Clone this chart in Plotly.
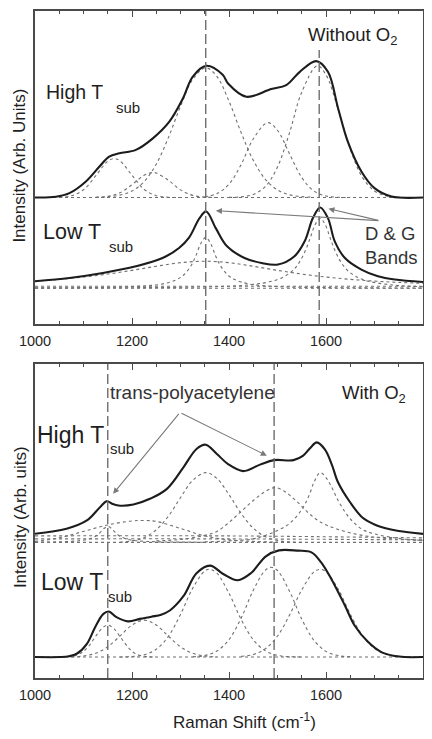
import plotly.graph_objects as go

# ---------------- data ----------------
X_RANGE = [1000, 1800]
TICK_VALUES = [1000, 1200, 1400, 1600]
TICK_LABELS = ["1000", "1200", "1400", "1600"]

top_band_lines = [1352, 1586]        # D & G bands (cm-1)
bottom_band_lines = [1150, 1493]     # trans-polyacetylene bands (cm-1)

# stacking offsets of the spectra (arb. units)
top_high_offset = 127
top_low_offset = 36
bottom_high_offset = 136
bottom_low_offset = 21

# ---- Without O2 : High Tsub ----
top_high_sum_x = [1000, 1043, 1071, 1105, 1133, 1153, 1174, 1208, 1243, 1277, 1305, 1325, 1353, 1387, 1398,
                  1436, 1487, 1518, 1546, 1580, 1604, 1625, 1645, 1673, 1700, 1735, 1800]
top_high_sum_y = [0, 0.7, 4.3, 16, 31, 41, 44.3, 47.7, 59.3, 76, 99.3, 121, 132, 123, 114.3,
                  101, 108.7, 112.7, 126, 136.7, 126, 89.3, 56, 26, 9.3, 1, 0]
top_high_c1_x = [1050, 1075, 1100, 1125, 1150, 1163, 1175, 1200, 1225, 1250, 1275, 1300]
top_high_c1_y = [0.2, 1.7, 7.7, 21.6, 36.4, 39, 36.8, 22.3, 8.1, 1.8, 0.2, 0]
top_high_c2_x = [1125, 1150, 1175, 1200, 1225, 1243, 1250, 1275, 1300, 1325, 1350, 1375]
top_high_c2_y = [0.2, 1.1, 4.6, 12.8, 22.2, 25, 24.5, 17.3, 7.6, 2.1, 0.4, 0]
top_high_c3_x = [1125, 1150, 1175, 1200, 1225, 1250, 1275, 1300, 1325, 1352, 1375, 1400, 1425, 1450, 1475,
                 1500, 1525, 1550, 1575]
top_high_c3_y = [0.2, 0.7, 2.3, 6.5, 15.9, 33.4, 60, 91.4, 118.3, 130, 121.4, 96.5, 65, 37.3, 18.2,
                 7.5, 2.6, 0.8, 0.2]
top_high_c4_x = [1350, 1375, 1400, 1425, 1450, 1480, 1500, 1525, 1550, 1575, 1600, 1625, 1650]
top_high_c4_y = [0.8, 3.8, 13.3, 33, 58.7, 75, 67.4, 43.4, 20, 6.5, 1.5, 0.2, 0]
top_high_c5_x = [1400, 1425, 1450, 1475, 1500, 1525, 1550, 1582, 1600, 1625, 1650, 1675, 1700, 1725, 1750, 1775]
top_high_c5_y = [0.1, 0.6, 3.0, 11, 30.6, 65.2, 105.6, 132, 123, 88.3, 48.5, 20.2, 6.5, 1.5, 0.2, 0]
top_high_base_x = [1000, 1800]
top_high_base_y = [0, 0]

# ---- Without O2 : Low Tsub ----
top_low_sum_x = [1000, 1071, 1140, 1208, 1263, 1297, 1318, 1339, 1353, 1373, 1396, 1432, 1467, 1501, 1535,
                 1556, 1573, 1588, 1604, 1618, 1639, 1673, 1707, 1742, 1800]
top_low_sum_y = [7, 10.3, 15.3, 22, 30.3, 40.3, 51, 70, 77, 60, 42, 30.3, 25.3, 23.7, 32,
                 47, 70.3, 81, 70.3, 47, 30.3, 18.7, 12, 8.7, 6.2]
top_low_broad_x = [1000, 1050, 1100, 1150, 1200, 1250, 1300, 1350, 1400, 1450, 1500, 1550, 1600, 1650,
                   1700, 1750, 1800]
top_low_broad_y = [7.1, 8.9, 11.2, 14.2, 17.9, 22.0, 25.6, 27, 25.6, 22.0, 17.9, 14.2, 11.2, 8.9,
                   7.1, 5.8, 4.8]
top_low_d_x = [1000, 1100, 1200, 1262, 1292, 1307, 1322, 1332, 1342, 1352, 1362, 1372, 1382, 1397, 1412,
               1442, 1502, 1602, 1700, 1800]
top_low_d_y = [0.3, 0.6, 1.6, 4.2, 8.6, 13.5, 22.8, 32.9, 44.9, 51, 44.9, 32.9, 22.8, 13.5, 8.6,
               4.2, 1.6, 0.6, 0.3, 0.2]
top_low_g_x = [1000, 1200, 1338, 1438, 1498, 1528, 1543, 1558, 1568, 1578, 1588, 1598, 1608, 1618, 1633,
               1648, 1678, 1738, 1800]
top_low_g_y = [0.2, 0.5, 1.2, 3.2, 8.3, 16.2, 24.5, 38.3, 51.2, 64.1, 70, 64.1, 51.2, 38.3, 24.5,
               16.2, 8.3, 3.2, 1.5]
top_low_base_x = [1000, 1800]
top_low_base_y = [0, 0]
top_low_base2_y = [2, 2]

# ---- With O2 : High Tsub ----
bottom_high_sum_x = [1000, 1065, 1107, 1134, 1148, 1160, 1172, 1203, 1237, 1272, 1306, 1333, 1352, 1375, 1398,
                     1429, 1464, 1493, 1533, 1553, 1568, 1581, 1598, 1612, 1625, 1650, 1675, 1700, 1725,
                     1750, 1800]
bottom_high_sum_y = [8.7, 13.7, 22, 35.3, 41.3, 38.5, 37, 38, 43.7, 53.7, 75.3, 93.7, 98, 88.7, 78.5,
                     71.5, 78, 82.5, 82.5, 87, 95, 100.3, 93, 78, 60, 40, 25, 18, 14,
                     11.5, 8.5]
bottom_high_n1_x = [1000, 1050, 1090, 1110, 1125, 1135, 1142, 1150, 1158, 1165, 1175, 1190, 1210, 1250, 1350]
bottom_high_n1_y = [0.2, 0.6, 1.6, 3.2, 6.2, 10.2, 13.8, 16, 13.8, 10.2, 6.2, 3.2, 1.6, 0.6, 0.2]
bottom_high_b1_x = [1000, 1050, 1100, 1150, 1200, 1225, 1250, 1300, 1350, 1400, 1450, 1500]
bottom_high_b1_y = [1, 4.5, 11, 17.5, 21.5, 22, 21, 14, 6.5, 2.5, 1, 0.3]
bottom_high_p3_x = [1175, 1200, 1225, 1250, 1275, 1300, 1325, 1352, 1375, 1400, 1425, 1450, 1475, 1500,
                    1525, 1550]
bottom_high_p3_y = [0.2, 1.5, 4.8, 12.6, 26.3, 44.8, 62.1, 70, 64.1, 47.9, 29, 14.3, 5.7, 1.9, 0.5, 0.1]
bottom_high_p4_x = [1250, 1300, 1350, 1375, 1400, 1425, 1450, 1475, 1495, 1515, 1540, 1565, 1590, 1625,
                    1675, 1725, 1800]
bottom_high_p4_y = [1.5, 3, 7, 11, 20, 31, 42, 51, 55, 51, 41, 29, 20, 13, 7, 4, 2]
bottom_high_p5_x = [1350, 1400, 1450, 1475, 1500, 1525, 1550, 1565, 1575, 1588, 1600, 1612, 1625, 1640,
                    1655, 1675, 1700, 1750, 1800]
bottom_high_p5_y = [0.5, 1.5, 3.5, 7, 12, 19, 33, 47, 60, 70, 65, 55, 42, 30, 21, 13, 8.5, 4, 2]
bottom_high_f1_x = [1000, 1400, 1800]
bottom_high_f1_y = [6.5, 6.5, 4.5]
bottom_high_f2_y = [3.5, 3.5, 2.5]
bottom_high_base_x = [1000, 1800]
bottom_high_base_y = [0, 0]

# ---- With O2 : Low Tsub ----
bottom_low_sum_x = [1000, 1052, 1070, 1086, 1107, 1124, 1141, 1152, 1168, 1192, 1216, 1240, 1260, 1278, 1306,
                    1333, 1361, 1388, 1418, 1445, 1476, 1503, 1542, 1570, 1590, 1611, 1639, 1659, 1687,
                    1714, 1742, 1762, 1800]
bottom_low_sum_y = [0, 0, 0.8, 3.3, 13.3, 30, 43.3, 45.7, 40, 35.8, 38.3, 40.5, 42.5, 46.7, 61,
                    84, 91.7, 83.3, 77, 84, 101, 107, 106.7, 105, 95, 78.3, 51.7, 31.7, 15,
                    5, 1, 0, 0]
bottom_low_q1_x = [1056, 1069, 1083, 1096, 1110, 1123, 1137, 1150, 1163, 1177, 1191, 1204, 1218, 1231, 1245]
bottom_low_q1_y = [0, 0.4, 1.4, 4.3, 10.4, 19.4, 28.2, 32, 28.2, 19.4, 10.4, 4.3, 1.4, 0.4, 0]
bottom_low_q2_x = [1075, 1100, 1125, 1150, 1175, 1200, 1225, 1250, 1275, 1300, 1325, 1350, 1375]
bottom_low_q2_y = [0.2, 1.1, 3.8, 10.3, 21, 32.1, 37, 32.1, 21, 10.3, 3.8, 1.1, 0.2]
bottom_low_q3_x = [1175, 1200, 1225, 1250, 1275, 1300, 1325, 1350, 1360, 1375, 1400, 1425, 1450, 1475, 1500,
                   1525, 1550]
bottom_low_q3_y = [0.1, 0.5, 2.3, 7.8, 20.8, 42.8, 68.9, 86.3, 88, 84.1, 63.9, 37.8, 17.4, 6.2, 1.7,
                   0.4, 0.1]
bottom_low_q4_x = [1325, 1350, 1375, 1400, 1425, 1450, 1475, 1487, 1500, 1525, 1550, 1575, 1600, 1625, 1650]
bottom_low_q4_y = [0.3, 1.5, 6, 17.5, 39, 66.9, 87.2, 90, 86.8, 65.8, 38.1, 16.8, 5.7, 1.5, 0.3]
bottom_low_q5_x = [1425, 1450, 1475, 1500, 1525, 1550, 1575, 1588, 1600, 1625, 1650, 1675, 1700, 1725,
                   1750, 1775]
bottom_low_q5_y = [0.7, 2.6, 8.3, 21.1, 42.3, 67.4, 85.3, 88, 85.7, 68.3, 43.1, 21.7, 8.6, 2.7, 0.7, 0.1]
bottom_low_base_x = [1000, 1800]
bottom_low_base_y = [0, 0]

# ---------------- figure ----------------
FONT = "Liberation Sans, Arial, sans-serif"
SUM_STYLE = dict(color="#1c1c1c", width=2.1, shape="spline", smoothing=1.0)
COMP_STYLE = dict(color="#707070", width=1.1, dash="dot", shape="spline", smoothing=1.0)

fig = go.Figure()


def add(xs, ys, offset, axis, style):
    xa, ya = ("x", "y") if axis == 1 else ("x2", "y2")
    fig.add_trace(go.Scatter(x=xs, y=[v + offset for v in ys], mode="lines", line=style,
                             xaxis=xa, yaxis=ya, showlegend=False, hoverinfo="skip"))


# top panel
for xs, ys in [(top_high_base_x, top_high_base_y), (top_high_c1_x, top_high_c1_y),
               (top_high_c2_x, top_high_c2_y), (top_high_c3_x, top_high_c3_y),
               (top_high_c4_x, top_high_c4_y), (top_high_c5_x, top_high_c5_y)]:
    add(xs, ys, top_high_offset, 1, COMP_STYLE)
add(top_high_sum_x, top_high_sum_y, top_high_offset, 1, SUM_STYLE)
for xs, ys in [(top_low_base_x, top_low_base_y), (top_low_base_x, top_low_base2_y),
               (top_low_broad_x, top_low_broad_y), (top_low_d_x, top_low_d_y), (top_low_g_x, top_low_g_y)]:
    add(xs, ys, top_low_offset, 1, COMP_STYLE)
add(top_low_sum_x, top_low_sum_y, top_low_offset, 1, SUM_STYLE)

# bottom panel
for xs, ys in [(bottom_high_base_x, bottom_high_base_y), (bottom_high_f1_x, bottom_high_f1_y),
               (bottom_high_f1_x, bottom_high_f2_y), (bottom_high_n1_x, bottom_high_n1_y),
               (bottom_high_b1_x, bottom_high_b1_y), (bottom_high_p3_x, bottom_high_p3_y),
               (bottom_high_p4_x, bottom_high_p4_y), (bottom_high_p5_x, bottom_high_p5_y)]:
    add(xs, ys, bottom_high_offset, 2, COMP_STYLE)
add(bottom_high_sum_x, bottom_high_sum_y, bottom_high_offset, 2, SUM_STYLE)
for xs, ys in [(bottom_low_base_x, bottom_low_base_y), (bottom_low_q1_x, bottom_low_q1_y),
               (bottom_low_q2_x, bottom_low_q2_y), (bottom_low_q3_x, bottom_low_q3_y),
               (bottom_low_q4_x, bottom_low_q4_y), (bottom_low_q5_x, bottom_low_q5_y)]:
    add(xs, ys, bottom_low_offset, 2, COMP_STYLE)
add(bottom_low_sum_x, bottom_low_sum_y, bottom_low_offset, 2, SUM_STYLE)

# dashed band markers
shapes = []
for i, xv in enumerate(top_band_lines):
    shapes.append(dict(type="line", xref="x", yref="y", x0=xv, x1=xv, y0=0, y1=314 if i == 0 else 275,
                       line=dict(color="#6e6e6e", width=1.4, dash="10px,4px")))
for xv in bottom_band_lines:
    shapes.append(dict(type="line", xref="x2", yref="y2", x0=xv, x1=xv, y0=0, y1=315,
                       line=dict(color="#6e6e6e", width=1.4, dash="10px,4px")))

axis_common = dict(showgrid=False, zeroline=False, showline=True, linecolor="#4a4a4a", linewidth=1.5,
                   mirror="ticks")
xaxis_common = dict(axis_common, range=X_RANGE, tickmode="array", tickvals=TICK_VALUES,
                    ticktext=TICK_LABELS, ticks="inside", ticklen=6, tickwidth=1.2, tickcolor="#4a4a4a",
                    minor=dict(dtick=50, tick0=1000, ticks="inside", ticklen=3.5, tickwidth=1.1,
                               tickcolor="#4a4a4a"),
                    tickfont=dict(family=FONT, size=14.5, color="#262626"), ticklabelstandoff=3)
yaxis_common = dict(axis_common, showticklabels=False, ticks="")

TEXT = dict(family=FONT, color="#1e1e1e")


def label(ref, x, y, text, size, color="#1e1e1e", **kw):
    xr, yr = ("x", "y") if ref == 1 else ("x2", "y2")
    return dict(xref=xr, yref=yr, x=x, y=y, text=text, showarrow=False, xanchor="left",
                yanchor="middle", font=dict(family=FONT, size=size, color=color), **kw)


annotations = [
    label(1, 1018.6, 232.5, "High T", 19.5),
    label(1, 1163, 217, "sub", 15),
    label(1, 1012, 92, "Low T", 21.5),
    label(1, 1148.5, 78, "sub", 15),
    label(1, 1559, 288.5, "Without O<sub>2</sub>", 18.5),
    label(1, 1676, 79, "D & G<br>Bands", 18.5, color="#333333", align="left"),
    label(2, 1150.5, 286, "trans-polyacetylene", 19, color="#333333"),
    label(2, 1629, 285, "With O<sub>2</sub>", 18.5),
    label(2, 1001, 244, "High T", 23),
    label(2, 1151, 230, "sub", 15),
    label(2, 1008, 96, "Low T", 23),
    label(2, 1146, 82, "sub", 15),
    # axis titles
    dict(xref="paper", yref="paper", x=-0.039, y=0.768, text="Intensity (Arb. Units)", showarrow=False,
         textangle=-90, xanchor="center", yanchor="middle", font=dict(TEXT, size=17)),
    dict(xref="paper", yref="paper", x=-0.039, y=0.241, text="Intensity (Arb. uits)", showarrow=False,
         textangle=-90, xanchor="center", yanchor="middle", font=dict(TEXT, size=17)),
    dict(xref="paper", yref="paper", x=0.539, y=-0.064, text="Raman Shift (cm<sup>-1</sup>)", showarrow=False,
         xanchor="center", yanchor="middle", font=dict(TEXT, size=17)),
]
ARROW = dict(showarrow=True, text="", arrowhead=2, arrowsize=1.1, arrowwidth=1.1, arrowcolor="#7a7a7a")
for hx, hy in [(1373, 113.7), (1605, 115.7)]:
    annotations.append(dict(ARROW, xref="x", yref="y", axref="x", ayref="y", x=hx, y=hy, ax=1711, ay=103.7))
for hx, hy in [(1161, 184.7), (1478, 223)]:
    annotations.append(dict(ARROW, xref="x2", yref="y2", axref="x2", ayref="y2", x=hx, y=hy, ax=1299, ay=266.3))

# the page body adds an 8 px margin; the figure is sized so the plot frame lands where the reference has it
fig.update_layout(
    width=424, height=731,
    margin=dict(l=27, r=9, t=1, b=61),
    paper_bgcolor="white", plot_bgcolor="white",
    showlegend=False,
    xaxis=dict(xaxis_common, domain=[0, 1], anchor="y"),
    yaxis=dict(yaxis_common, domain=[0.5306, 1], range=[0, 314], anchor="x"),
    xaxis2=dict(xaxis_common, domain=[0, 1], anchor="y2"),
    yaxis2=dict(yaxis_common, domain=[0, 0.4709], range=[0, 315], anchor="x2"),
    shapes=shapes,
    annotations=annotations,
)

fig.write_html("out.html")
